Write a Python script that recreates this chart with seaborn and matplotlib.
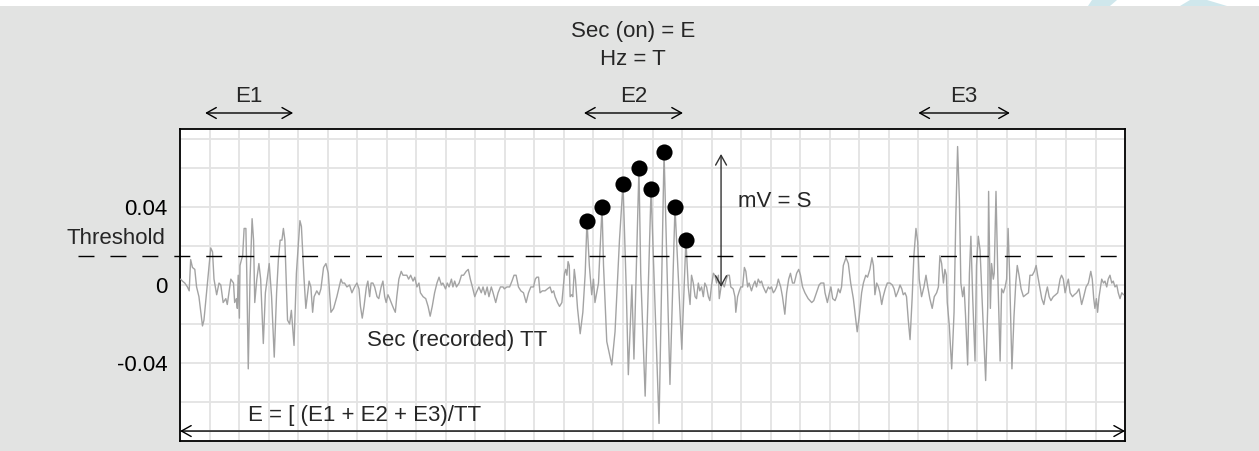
import matplotlib
matplotlib.use("Agg")
import matplotlib.pyplot as plt
import seaborn as sns
import pandas as pd
from matplotlib.patches import Rectangle, Polygon

# recorded trace (time in grid units, amplitude)
t_e1 = [0.02, 0.08, 0.16, 0.25, 0.31, 0.36, 0.42, 0.50, 0.56, 0.64,
        0.76, 0.81, 0.93, 1.04, 1.10, 1.15, 1.24, 1.32, 1.38, 1.46,
        1.55, 1.60, 1.72, 1.81, 1.85, 1.91, 1.94, 1.97, 2.01, 2.03,
        2.08, 2.12, 2.17, 2.23, 2.26, 2.31, 2.37, 2.44, 2.49, 2.53,
        2.60, 2.67, 2.73, 2.82, 2.89, 3.02, 3.10, 3.19, 3.27, 3.33,
        3.39, 3.45, 3.50, 3.55, 3.64, 3.71, 3.77, 3.86, 3.94, 4.06,
        4.11, 4.20, 4.26, 4.37, 4.43, 4.49, 4.54, 4.63, 4.71, 4.77,
        4.86, 4.94, 5.02, 5.11, 5.20, 5.31, 5.45, 5.50]
v_e1 = [0.003, 0.002, 0.001, -0.001, -0.003, 0.013, 0.009, 0.008, -0.001, -0.006,
        -0.021, -0.018, 0.001, 0.019, 0.017, 0.003, -0.005, 0.001, 0.000, -0.009,
        -0.007, -0.010, 0.003, 0.001, -0.009, -0.007, -0.012, 0.005, -0.017, 0.010,
        0.013, 0.015, 0.029, 0.029, 0.006, -0.043, 0.003, 0.034, 0.023, -0.009,
        0.003, 0.011, 0.003, -0.030, -0.004, 0.011, -0.006, -0.037, -0.004, 0.013,
        0.023, 0.023, 0.029, 0.023, -0.018, -0.020, -0.013, -0.031, 0.006, 0.033,
        0.030, 0.003, -0.012, 0.002, -0.001, -0.014, -0.006, -0.003, -0.005, -0.002,
        0.009, 0.011, 0.006, -0.014, -0.012, -0.006, 0.003, 0.001]

t_quiet1 = [5.57, 5.65, 5.74, 5.82, 5.91, 5.99, 6.06, 6.11, 6.17, 6.23,
            6.31, 6.36, 6.42, 6.47, 6.53, 6.59, 6.67, 6.73, 6.81, 6.87,
            6.93, 6.98, 7.04, 7.10, 7.15, 7.23, 7.29, 7.34, 7.41, 7.49,
            7.55, 7.62, 7.68, 7.74, 7.81, 7.89, 7.95, 8.02, 8.09, 8.14,
            8.23, 8.32, 8.40, 8.47, 8.54, 8.62, 8.70, 8.77, 8.85, 8.90,
            8.99, 9.05, 9.11, 9.19, 9.24, 9.30, 9.36, 9.45, 9.53, 9.60,
            9.69, 9.76, 9.83, 9.90, 9.98, 10.03, 10.12, 10.20, 10.26, 10.33,
            10.40, 10.46, 10.54, 10.60, 10.69, 10.77, 10.85, 10.94]
v_quiet1 = [0.001, -0.001, 0.000, -0.004, -0.001, 0.001, -0.002, -0.011, -0.017, -0.011,
            -0.001, 0.002, -0.006, 0.001, 0.001, -0.001, -0.006, -0.007, -0.001, 0.002,
            -0.006, -0.009, -0.005, -0.007, -0.009, -0.012, -0.014, -0.006, 0.003, 0.007,
            0.005, 0.005, 0.005, 0.003, 0.005, 0.002, 0.004, -0.001, 0.001, -0.004,
            -0.006, -0.007, -0.011, -0.016, -0.011, -0.004, 0.001, 0.004, 0.000, 0.001,
            -0.002, 0.001, -0.001, 0.003, -0.001, 0.002, -0.001, 0.001, 0.005, 0.005,
            0.007, 0.008, 0.003, -0.001, -0.006, -0.004, -0.001, -0.004, -0.001, -0.005,
            -0.001, -0.006, -0.001, -0.004, -0.009, -0.004, -0.001, -0.001]

t_e2 = [10.98, 11.07, 11.16, 11.24, 11.31, 11.38, 11.46, 11.54, 11.63, 11.72,
        11.80, 11.88, 11.97, 12.03, 12.08, 12.14, 12.19, 12.27, 12.36, 12.44,
        12.53, 12.59, 12.65, 12.70, 12.78, 12.85, 12.93, 12.98, 13.02, 13.06,
        13.10, 13.14, 13.18, 13.21, 13.26, 13.30, 13.35, 13.39, 13.46, 13.55,
        13.64, 13.72, 13.78, 13.86, 13.94, 14.00, 14.05, 14.17, 14.29, 14.34,
        14.45, 14.62, 14.73, 14.88, 15.00, 15.11, 15.18, 15.30, 15.37, 15.54,
        15.60, 15.75, 15.95, 16.22, 16.39, 16.59, 16.76, 16.99, 17.13]
v_e2 = [-0.002, -0.001, -0.001, 0.002, 0.005, 0.005, -0.001, -0.003, -0.004, -0.009,
        -0.004, -0.001, -0.001, 0.003, 0.004, 0.004, -0.004, -0.003, -0.003, -0.002,
        -0.001, -0.004, -0.003, -0.006, -0.009, -0.011, -0.009, -0.001, 0.006, 0.008,
        0.005, 0.012, 0.010, -0.006, -0.005, -0.006, 0.008, 0.003, -0.012, -0.025,
        -0.014, 0.006, 0.033, 0.010, -0.005, 0.003, -0.009, 0.001, 0.040, 0.010,
        -0.029, -0.041, -0.024, 0.023, 0.052, -0.002, -0.046, 0.000, -0.038, 0.060,
        0.006, -0.057, 0.049, -0.071, 0.068, -0.051, 0.040, -0.033, 0.023]

t_quiet2 = [17.21, 17.27, 17.32, 17.38, 17.44, 17.49, 17.55, 17.60, 17.66, 17.72,
            17.77, 17.83, 17.89, 17.94, 18.00, 18.06, 18.11, 18.17, 18.23, 18.26,
            18.32, 18.37, 18.43, 18.48, 18.54, 18.60, 18.65, 18.73, 18.79, 18.82,
            18.88, 18.94, 18.99, 19.05, 19.11, 19.16, 19.22, 19.27, 19.35, 19.41,
            19.47, 19.52, 19.58, 19.64, 19.69, 19.75, 19.84, 19.92, 19.97, 20.03,
            20.09, 20.14, 20.20, 20.26, 20.34, 20.40, 20.48, 20.54, 20.61, 20.67,
            20.74, 20.80, 20.88, 20.95, 21.01, 21.08, 21.16, 21.27, 21.39, 21.46,
            21.55, 21.64, 21.70, 21.80, 21.84, 21.92, 21.99, 22.04, 22.10, 22.18,
            22.23, 22.29, 22.35, 22.40, 22.46, 22.55, 22.63, 22.71, 22.80, 22.87,
            22.93, 23.00, 23.08, 23.14, 23.22, 23.28, 23.36, 23.43, 23.48, 23.53,
            23.59, 23.65, 23.70, 23.76, 23.81, 23.88, 23.95, 24.04, 24.12, 24.18,
            24.24, 24.32, 24.38, 24.44, 24.49, 24.55, 24.60]
v_quiet2 = [-0.001, -0.010, 0.005, 0.001, -0.006, -0.007, 0.001, -0.003, -0.001, -0.006,
            0.001, -0.001, -0.006, -0.008, 0.000, 0.006, 0.005, 0.001, 0.005, -0.007,
            -0.001, 0.001, -0.001, 0.002, 0.005, 0.005, -0.001, -0.002, -0.006, -0.014,
            -0.006, -0.003, -0.001, -0.001, 0.009, 0.007, -0.001, 0.001, -0.003, 0.000,
            0.002, -0.001, 0.003, 0.001, 0.002, -0.001, -0.004, -0.001, -0.002, -0.001,
            -0.004, -0.003, -0.001, 0.003, -0.001, -0.006, -0.015, -0.004, 0.003, 0.006,
            0.001, 0.001, 0.006, 0.008, 0.005, -0.001, -0.004, -0.007, -0.009, -0.008,
            -0.004, 0.000, 0.001, 0.001, -0.004, -0.009, -0.004, -0.001, -0.007, -0.008,
            -0.006, -0.002, -0.004, -0.001, 0.010, 0.014, 0.011, 0.001, -0.007, -0.016,
            -0.024, -0.016, -0.004, 0.001, 0.005, 0.004, 0.008, 0.014, 0.010, -0.005,
            0.001, -0.001, -0.004, -0.010, -0.006, -0.002, 0.001, 0.001, 0.000, -0.002,
            -0.006, -0.003, 0.000, -0.002, -0.005, -0.004, -0.006]

t_e3 = [24.66, 24.72, 24.79, 24.85, 24.92, 24.98, 25.03, 25.11, 25.19, 25.26,
        25.32, 25.39, 25.47, 25.54, 25.62, 25.68, 25.73, 25.79, 25.85, 25.90,
        25.95, 25.98, 26.05, 26.13, 26.21, 26.27, 26.33, 26.39, 26.44, 26.50,
        26.55, 26.60, 26.67, 26.73, 26.78, 26.84, 26.92, 26.97, 27.03, 27.09,
        27.17, 27.28, 27.35, 27.38, 27.44, 27.48, 27.54, 27.57, 27.63, 27.69,
        27.77, 27.82, 27.88, 27.94, 27.99, 28.04, 28.09, 28.17, 28.24, 28.30]
v_e3 = [-0.018, -0.028, -0.007, 0.015, 0.029, 0.022, 0.003, -0.006, -0.001, 0.005,
        -0.001, -0.007, -0.012, -0.006, -0.004, -0.001, 0.015, 0.011, 0.001, 0.008,
        0.005, -0.009, -0.021, -0.043, -0.014, 0.035, 0.071, 0.044, 0.001, -0.006,
        -0.001, -0.016, -0.041, 0.006, 0.025, -0.006, -0.039, 0.010, 0.025, 0.018,
        -0.011, -0.049, -0.011, 0.048, -0.012, 0.011, 0.003, 0.006, 0.048, 0.006,
        -0.039, -0.002, -0.004, -0.001, 0.003, 0.029, 0.006, -0.043, -0.016, 0.001]

t_tail = [28.35, 28.41, 28.48, 28.56, 28.64, 28.73, 28.78, 28.86, 28.93, 28.99,
          29.04, 29.12, 29.18, 29.25, 29.31, 29.37, 29.43, 29.49, 29.57, 29.65,
          29.72, 29.80, 29.85, 29.91, 29.97, 30.04, 30.08, 30.14, 30.22, 30.28,
          30.36, 30.44, 30.53, 30.60, 30.68, 30.76, 30.84, 30.89, 30.94, 30.98,
          31.03, 31.07, 31.12, 31.16, 31.21, 31.27, 31.32, 31.38, 31.43, 31.49,
          31.55, 31.60, 31.66, 31.72, 31.77, 31.83, 31.89, 31.95]
v_tail = [0.010, 0.005, -0.002, -0.006, -0.005, -0.004, 0.005, 0.005, 0.007, 0.010,
          0.005, -0.002, -0.007, -0.010, -0.005, -0.001, -0.006, -0.008, -0.006, -0.005,
          -0.004, 0.003, 0.005, 0.003, -0.004, 0.001, 0.003, -0.004, -0.006, -0.005,
          -0.004, -0.002, -0.010, -0.006, -0.001, 0.001, 0.007, 0.003, -0.007, -0.012,
          -0.007, -0.014, -0.006, -0.002, 0.003, 0.001, 0.002, -0.001, 0.003, 0.005,
          0.001, 0.002, -0.001, 0.000, -0.004, -0.007, -0.004, -0.005]

# peaks above threshold inside E2
peak_t = [13.78, 14.29, 15.00, 15.54, 15.95, 16.39, 16.76, 17.13]
peak_v = [0.033, 0.040, 0.052, 0.060, 0.049, 0.068, 0.040, 0.023]

threshold = 0.015
y_grid = [-0.075, -0.06, -0.04, -0.02, 0.0, 0.02, 0.04, 0.06, 0.075]
y_labels = {0.04: "0.04", 0.0: "0", -0.04: "-0.04"}
episodes = ["E1", "E2", "E3"]
episode_start = [0.85, 13.68, 25.0]
episode_end = [3.83, 17.03, 28.1]

df = pd.DataFrame({
    "t": t_e1 + t_quiet1 + t_e2 + t_quiet2 + t_e3 + t_tail,
    "v": v_e1 + v_quiet1 + v_e2 + v_quiet2 + v_e3 + v_tail,
})

sns.set_theme(style="white")
plt.rcParams["font.family"] = ["Liberation Sans Narrow", "Liberation Sans", "DejaVu Sans"]

bg = "#e2e3e2"
fig = plt.figure(figsize=(12.59, 4.51), dpi=100, facecolor=bg)
ax = fig.add_axes([0.143, 0.0222, 0.7506, 0.6918])
ax.set_facecolor("white")

sns.lineplot(x="t", y="v", data=df, ax=ax, color="#a3a3a3", linewidth=1.0,
             estimator=None, sort=False, zorder=3)
sns.scatterplot(x=peak_t, y=peak_v, ax=ax, color="black", s=135, linewidth=0, zorder=5)

ax.set_xlim(0, 32)
ax.set_ylim(-0.08, 0.08)
ax.set_xticks(range(0, 33))
ax.set_yticks(y_grid)
ax.set_yticklabels([y_labels.get(round(v, 3), "") for v in y_grid])
ax.tick_params(axis="x", labelbottom=False, length=0)
ax.tick_params(axis="y", length=0, pad=9, labelsize=16, labelcolor="black")
ax.grid(True, color="#e3e3e3", linewidth=1.3)
ax.set_axisbelow(True)
ax.set_xlabel("")
ax.set_ylabel("")
for s in ax.spines.values():
    s.set_color("black")
    s.set_linewidth(1.3)

# threshold line reaching out to its label
ax.plot([-3.45, 31.9], [threshold, threshold], color="black", lw=1.0,
        dashes=(11.5, 11.5), clip_on=False, zorder=4)
ax.text(-0.5, threshold + 0.0086, "Threshold", ha="right", va="center", fontsize=16)

arrow = dict(arrowstyle="<->,head_length=0.5,head_width=0.28", color="black",
             lw=1.0, shrinkA=0, shrinkB=0, mutation_scale=14)

for name, a, b in zip(episodes, episode_start, episode_end):
    ax.annotate("", xy=(b, 0.0882), xytext=(a, 0.0882), arrowprops=arrow,
                annotation_clip=False)
    ax.text((a + b) / 2, 0.0965, name, ha="center", va="center", fontsize=16)

ax.text(15.34, 0.130, "Sec (on) = E", ha="center", va="center", fontsize=16)
ax.text(15.34, 0.1155, "Hz = T", ha="center", va="center", fontsize=16)

# amplitude span
ax.annotate("", xy=(18.32, 0.0672), xytext=(18.32, -0.001),
            arrowprops=dict(arrow, color="#333333"), annotation_clip=False)
ax.text(18.9, 0.0426, "mV = S", ha="left", va="center", fontsize=16)

ax.text(6.33, -0.0287, "Sec (recorded) TT", ha="left", va="center", fontsize=16)
ax.text(2.30, -0.067, "E = [ (E1 + E2 + E3)/TT", ha="left", va="center", fontsize=16)
ax.annotate("", xy=(32, -0.0749), xytext=(0, -0.0749), arrowprops=arrow,
            annotation_clip=False)

# white strip and faint shape along the top edge
fig.patches.append(Rectangle((0, 1 - 6 / 451), 1, 6 / 451, transform=fig.transFigure,
                             facecolor="white", edgecolor="none"))
for xs in ([1088, 1092, 1117, 1110], [1180, 1190, 1207, 1227]):
    pts = [(xs[0] / 1259, 1 - 6 / 451), (xs[1] / 1259, 1), (xs[2] / 1259, 1),
           (xs[3] / 1259, 1 - 6 / 451)]
    fig.patches.append(Polygon(pts, closed=True, transform=fig.transFigure,
                               facecolor="#cfe7ec", edgecolor="none"))

fig.savefig("out.png", dpi=100, facecolor=bg)
